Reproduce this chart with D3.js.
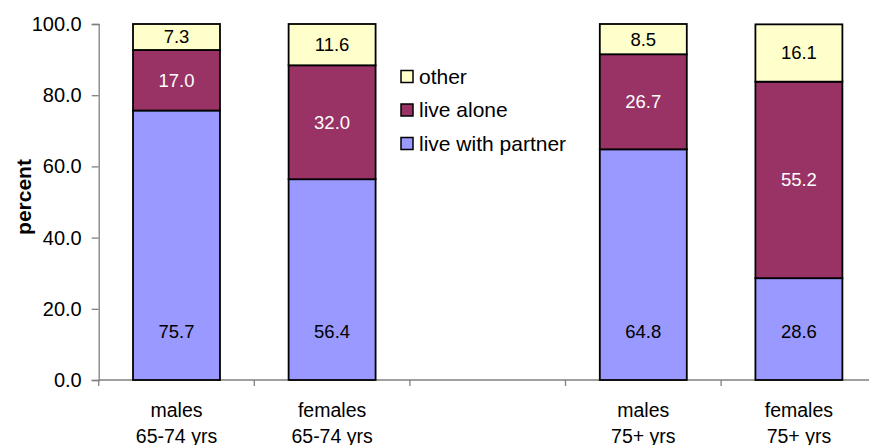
<!DOCTYPE html>
<html>
<head>
<meta charset="utf-8">
<script src="https://cdn.jsdelivr.net/npm/d3@7"></script>
<style>
  body { margin: 0; background: #fff; }
  svg { display: block; font-family: "Liberation Sans", Arial, sans-serif; }
</style>
</head>
<body>
<div id="chart"></div>
<script>
(function () {
    'use strict';

    // chart data
    var categories = ['males|65-74 yrs', 'females|65-74 yrs', 'gap', 'males|75+ yrs', 'females|75+ yrs'];
    var liveWithPartner = [75.7, 56.4, null, 64.8, 28.6];
    var liveAlone = [17.0, 32.0, null, 26.7, 55.2];
    var other = [7.3, 11.6, null, 8.5, 16.1];
    var yTicks = [0, 20, 40, 60, 80, 100];

    var seriesNames = ['live with partner', 'live alone', 'other'];
    var seriesValues = [liveWithPartner, liveAlone, other];
    var seriesFill = ['#9999FF', '#993366', '#FFFFCC'];
    var labelFill = ['#000', '#fff', '#000'];

    var width = 869, height = 445;
    var left = 98.7, top = 24, bottom = 380;
    var step = 155.6;

    var svg = d3.select('#chart').append('svg')
        .attr('width', width)
        .attr('height', height);

    var x = d3.scaleBand()
        .domain(categories)
        .range([left, left + step * categories.length])
        .paddingInner(0.441)
        .paddingOuter(0.2205);

    var y = d3.scaleLinear()
        .domain([0, 100])
        .range([bottom, top]);

    // y axis
    var yAxis = svg.append('g')
        .attr('transform', 'translate(' + left + ',0)')
        .call(d3.axisLeft(y).tickValues(yTicks).tickFormat(d3.format('.1f')).tickSize(7).tickPadding(10));
    yAxis.select('.domain').attr('stroke', '#808080').attr('stroke-width', 1.3);
    yAxis.selectAll('.tick line').attr('stroke', '#808080').attr('stroke-width', 1.3);
    yAxis.selectAll('.tick text')
        .attr('font-size', 20)
        .attr('fill', '#000')
        .attr('font-family', '"Liberation Sans", Arial, sans-serif');

    svg.append('text')
        .attr('transform', 'translate(31,197) rotate(-90)')
        .attr('text-anchor', 'middle')
        .attr('font-size', 21)
        .attr('font-weight', 'bold')
        .text('percent');

    // x axis line and boundary ticks
    svg.append('line')
        .attr('x1', left).attr('x2', width)
        .attr('y1', bottom).attr('y2', bottom)
        .attr('stroke', '#808080').attr('stroke-width', 1.5);

    svg.selectAll('.xtick')
        .data(d3.range(categories.length + 1))
        .enter().append('line')
        .attr('class', 'xtick')
        .attr('x1', function (i) { return left + i * x.step(); })
        .attr('x2', function (i) { return left + i * x.step(); })
        .attr('y1', bottom).attr('y2', bottom + 6)
        .attr('stroke', '#808080').attr('stroke-width', 1.3);

    // stacked bars
    categories.forEach(function (cat, ci) {
        if (liveWithPartner[ci] === null) { return; }
        var base = 0;
        seriesValues.forEach(function (vals, si) {
            var v = vals[ci];
            var y0 = base, y1 = base + v;
            base = y1;
            svg.append('rect')
                .attr('x', x(cat))
                .attr('y', y(y1))
                .attr('width', x.bandwidth())
                .attr('height', y(y0) - y(y1))
                .attr('fill', seriesFill[si])
                .attr('stroke', '#000')
                .attr('stroke-width', 1.8);
            var ly = si === 0 ? y(0) - 48 : y((y0 + y1) / 2);
            svg.append('text')
                .attr('x', x(cat) + x.bandwidth() / 2)
                .attr('y', ly)
                .attr('dy', '0.35em')
                .attr('text-anchor', 'middle')
                .attr('font-size', 18.5)
                .attr('fill', labelFill[si])
                .text(v.toFixed(1));
        });

        var lines = cat.split('|');
        lines.forEach(function (t, li) {
            svg.append('text')
                .attr('x', x(cat) + x.bandwidth() / 2)
                .attr('y', 417 + li * 26)
                .attr('text-anchor', 'middle')
                .attr('font-size', 19.5)
                .text(t);
        });
    });

    // legend
    var legendOrder = [2, 1, 0];
    var legend = svg.append('g').attr('transform', 'translate(401,76.5)');
    legendOrder.forEach(function (si, i) {
        var g = legend.append('g').attr('transform', 'translate(0,' + (i * 33.5) + ')');
        g.append('rect')
            .attr('x', 0).attr('y', -6)
            .attr('width', 12).attr('height', 12)
            .attr('fill', seriesFill[si])
            .attr('stroke', '#000')
            .attr('stroke-width', 1.5);
        g.append('text')
            .attr('x', 18)
            .attr('y', 0)
            .attr('dy', '0.35em')
            .attr('font-size', 21)
            .text(seriesNames[si]);
    });
})();
</script>
</body>
</html>
